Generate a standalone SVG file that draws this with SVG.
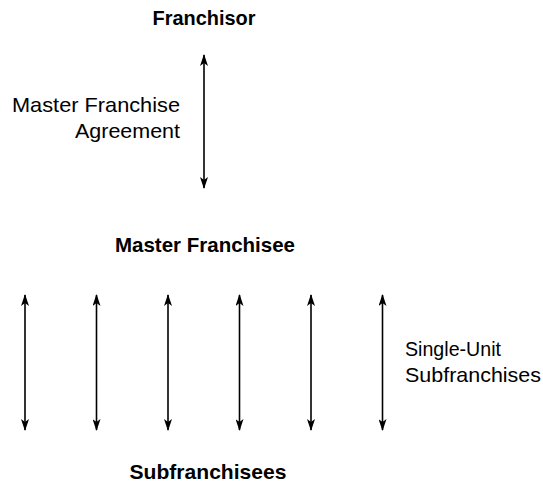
<svg xmlns="http://www.w3.org/2000/svg" width="543" height="486" viewBox="0 0 543 486">
<style>
text{font-family:"Liberation Sans Narrow","Liberation Sans",Arial,sans-serif;fill:#000;font-size:21px}
.b{font-weight:bold;text-anchor:middle;font-size:20.5px}
.c{stroke:#000;stroke-width:1.6;fill:none;marker-start:url(#ah);marker-end:url(#ah)}
</style>
<defs>
<marker id="ah" viewBox="0 0 12 8" refX="11" refY="4" markerWidth="12" markerHeight="8" markerUnits="userSpaceOnUse" orient="auto-start-reverse">
<path d="M0,0 L12,4 L0,8 L3,4 Z" fill="#000"/>
</marker>
</defs>
<g id="franchisor"><text class="b" x="204" y="25" textLength="103" lengthAdjust="spacingAndGlyphs">Franchisor</text></g>
<g id="master-franchisee"><text class="b" x="205" y="252" textLength="180" lengthAdjust="spacingAndGlyphs">Master Franchisee</text></g>
<g id="subfranchisees"><text class="b" x="208" y="479" textLength="157" lengthAdjust="spacingAndGlyphs">Subfranchisees</text></g>
<g id="labels">
<text x="180" y="112" text-anchor="end" textLength="168" lengthAdjust="spacingAndGlyphs">Master Franchise</text>
<text x="180" y="138" text-anchor="end" textLength="105" lengthAdjust="spacingAndGlyphs">Agreement</text>
<text x="405" y="356" textLength="96" lengthAdjust="spacingAndGlyphs">Single-Unit</text>
<text x="405" y="382" textLength="136" lengthAdjust="spacingAndGlyphs">Subfranchises</text>
</g>
<g id="connectors">
<line class="c" x1="204" y1="55" x2="204" y2="188"/>
<line class="c" x1="25" y1="295" x2="25" y2="430"/>
<line class="c" x1="96.5" y1="295" x2="96.5" y2="430"/>
<line class="c" x1="168" y1="295" x2="168" y2="430"/>
<line class="c" x1="239.5" y1="295" x2="239.5" y2="430"/>
<line class="c" x1="311" y1="295" x2="311" y2="430"/>
<line class="c" x1="382.5" y1="295" x2="382.5" y2="430"/>
</g>
</svg>
